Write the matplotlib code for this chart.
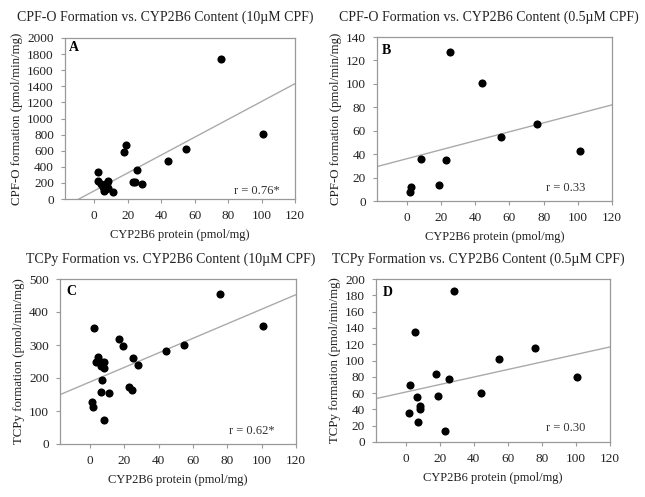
import matplotlib
matplotlib.use("Agg")
import matplotlib.pyplot as plt
import numpy as np

plt.rcParams['font.family'] = ['Liberation Serif', 'DejaVu Serif']

# ---- data ----
a_x = [76, 101, 55, 44, 25.5, 19, 17.5, 23, 24.5, 28.5, 2.5, 2, 4, 5.5, 6.5, 7, 8, 8.5, 6, 11, 7.5]
a_y = [1740, 810, 615, 475, 365, 665, 590, 215, 205, 185, 330, 218, 190, 145, 165, 125, 220, 140, 95, 90, 200]

b_x = [25.5, 44, 76, 55, 101, 8.5, 23, 19, 2.5, 2]
b_y = [127.5, 101, 66, 54.5, 43, 35.5, 35, 14, 12, 7.3]

c_x = [76, 101, 55, 44, 25.3, 28.1, 17.1, 19, 22.7, 24.4, 2.3, 1.2, 2, 8, 6.3, 10.9, 7.1,
       4.5, 3.7, 6.1, 7.9, 8.4, 6.1]
c_y = [455, 357, 301, 282, 261, 240, 318, 297, 172, 163, 353, 126, 111, 73, 157, 154, 193,
       263, 250, 247, 250, 230, 237]

d_x = [28.3, 5.3, 75.7, 54.9, 100.5, 17.5, 25.6, 2.6, 19.1, 6.3, 44.3, 2, 8.1, 8.5, 7.3, 23]
d_y = [185, 135, 115.5, 102, 79.5, 83.5, 77.3, 70, 56, 55, 60, 36, 44, 41, 25, 13.5]

# regression lines (slope, intercept)
fit_slope = [11.09, 0.383, 2.204, 0.461]
fit_intercept = [102, 36.1, 188.1, 61.3]

titles = ["CPF-O Formation vs. CYP2B6 Content (10\u00b5M CPF)",
          "CPF-O Formation vs. CYP2B6 Content (0.5\u00b5M CPF)",
          "TCPy Formation vs. CYP2B6 Content (10\u00b5M CPF)",
          "TCPy Formation vs. CYP2B6 Content (0.5\u00b5M CPF)"]
letters = ["A", "B", "C", "D"]
r_texts = ["r = 0.76*", "r = 0.33", "r = 0.62*", "r = 0.30"]
ylabels = ["CPF-O formation (pmol/min/mg)", "CPF-O formation (pmol/min/mg)",
           "TCPy formation (pmol/min/mg)", "TCPy formation (pmol/min/mg)"]
xlabel = "CYP2B6 protein (pmol/mg)"
x_ticks = [0, 20, 40, 60, 80, 100, 120]
y_ticks = [list(range(0, 2001, 200)), list(range(0, 141, 20)),
           list(range(0, 501, 100)), list(range(0, 201, 20))]

# ---- layout ----
W, H = 645, 497
fig = plt.figure(figsize=(W / 100, H / 100), dpi=100)
boxes = [(65, 38, 295, 199), (377, 37, 612, 201), (60, 279, 296, 444), (376, 279, 610, 442)]
title_pos = [(165, 17), (489, 17), (171, 259), (478, 259)]
letter_pos = [(0.015, 0.94), (0.02, 0.92), (0.028, 0.925), (0.03, 0.918)]
r_pos = [(0.935, 0.05), (0.886, 0.08), (0.911, 0.076), (0.893, 0.086)]
datasets = [(a_x, a_y), (b_x, b_y), (c_x, c_y), (d_x, d_y)]
ylims = [2000, 140, 500, 200]
gray = "#999999"

for i in range(4):
    l, t, r, b = boxes[i]
    ax = fig.add_axes([l / W, 1 - b / H, (r - l) / W, (b - t) / H])
    x, y = datasets[i]
    ax.scatter(x, y, s=34, color="black", zorder=3, linewidths=0)
    xs = np.array([-17.5, 120])
    ax.plot(xs, fit_slope[i] * xs + fit_intercept[i], color="#aaaaaa", lw=1.0, zorder=2)
    ax.set_xlim(-17.5, 120)
    ax.set_ylim(0, ylims[i])
    ax.set_xticks(x_ticks)
    ax.set_yticks(y_ticks[i])
    ax.tick_params(direction="out", length=3, width=0.8, color=gray, labelsize=9.5,
                   pad=5, labelcolor="#222222")
    for s in ax.spines.values():
        s.set_color(gray)
        s.set_linewidth(0.9)
    ax.set_xlabel(xlabel, fontsize=9, labelpad=5, color="#222222")
    ax.set_ylabel(ylabels[i], fontsize=9.3, labelpad=3, color="#222222")
    ax.text(*letter_pos[i], letters[i], transform=ax.transAxes, fontsize=10,
            fontweight="bold", ha="left", va="center")
    ax.text(*r_pos[i], r_texts[i], transform=ax.transAxes, fontsize=9,
            ha="right", va="center", color="#333333")
    tx, ty = title_pos[i]
    fig.text(tx / W, 1 - ty / H, titles[i], fontsize=10, ha="center", va="center",
             color="#222222")

fig.savefig("out.png", dpi=100, facecolor="white")
